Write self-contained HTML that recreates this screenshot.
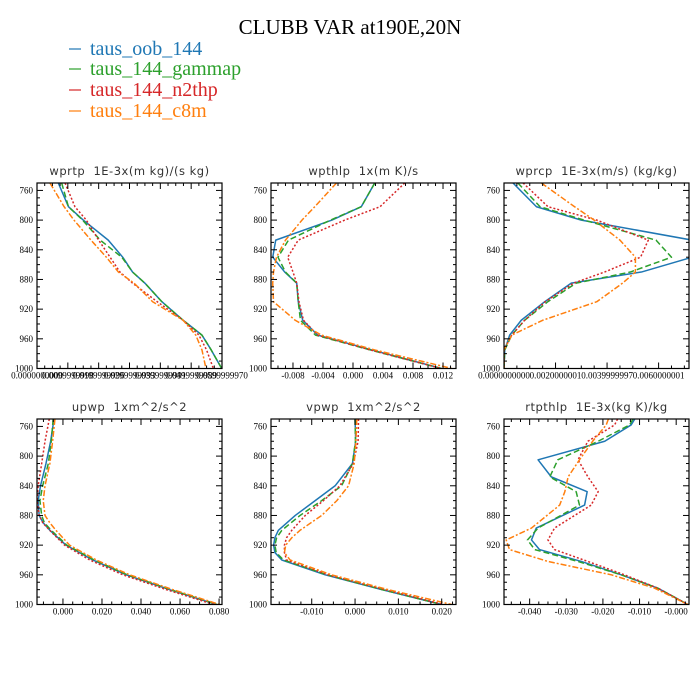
<!DOCTYPE html>
<html><head><meta charset="utf-8">
<style>
html,body{margin:0;padding:0;background:#fff;width:700px;height:700px;overflow:hidden}
svg{display:block}
.tk{font-family:"Liberation Serif",serif;font-size:9px;fill:#000}
.pt{font-family:"DejaVu Sans","Liberation Sans",sans-serif;font-size:11.5px;fill:#333;letter-spacing:0.5px;white-space:pre}
</style></head>
<body>
<svg id="chart" width="700" height="700" viewBox="0 0 700 700">
  <text x="350" y="34" text-anchor="middle" font-family="Liberation Serif,serif" font-size="21" fill="#000">CLUBB VAR at190E,20N</text>
  <g font-family="Liberation Serif,serif" font-size="20">
    <g><line x1="69" y1="49" x2="81" y2="49" stroke="#1f77b4" stroke-opacity="0.6" stroke-width="2"/><text x="90" y="55" fill="#1f77b4">taus_oob_144</text></g>
    <g><line x1="69" y1="69" x2="81" y2="69" stroke="#2ca02c" stroke-opacity="0.6" stroke-width="2"/><text x="90" y="75" fill="#2ca02c">taus_144_gammap</text></g>
    <g><line x1="69" y1="90" x2="81" y2="90" stroke="#d62728" stroke-opacity="0.6" stroke-width="2"/><text x="90" y="96" fill="#d62728">taus_144_n2thp</text></g>
    <g><line x1="69" y1="111" x2="81" y2="111" stroke="#ff7f0e" stroke-opacity="0.6" stroke-width="2"/><text x="90" y="117" fill="#ff7f0e">taus_144_c8m</text></g>
  </g>
</svg>
<script>
// ---- data ----
const seriesNames = ["taus_oob_144","taus_144_gammap","taus_144_n2thp","taus_144_c8m"];
const topLevels = [750,782,800,827,850,870,885,910,935,955,975,1000];

const wprtpBlue   = [.0069,.0102,.0150,.0231,.0278,.0310,.0350,.0405,.0474,.0535,.0565,.0599];
const wprtpGreen  = [.0080,.0102,.0148,.0205,.0275,.0310,.0350,.0405,.0474,.0535,.0565,.0599];
const wprtpRed    = [.0091,.0123,.0160,.0200,.0237,.0269,.0310,.0390,.0474,.0525,.0550,.0572];
const wprtpOrange = [.0042,.0088,.0120,.0175,.0225,.0264,.0315,.0375,.0474,.0515,.0535,.0548];
const wprtpTicks = [0,0.01,0.02,0.03,0.04,0.05,0.06];
const wprtpTickLabels = ["0.0000000000","0.0099999998","0.0199999996","0.0299999993","0.0399999991","0.0499999989","0.0599999970"];

const wpthlpBlue   = [.0029,.0011,-.0028,-.0103,-.0107,-.0091,-.0075,-.0073,-.0067,-.0047,.0025,.0118];
const wpthlpGreen  = [.0029,.0011,-.0030,-.0086,-.0100,-.0090,-.0075,-.0073,-.0070,-.0050,.0023,.0118];
const wpthlpRed    = [.0069,.0036,-.0011,-.0073,-.0087,-.0080,-.0075,-.0072,-.0066,-.0047,.0023,.0118];
const wpthlpOrange = [-.0022,-.0051,-.0068,-.0090,-.0102,-.0106,-.0107,-.0106,-.0077,-.0042,.0029,.0132];
const wpthlpTicks = [-0.008,-0.004,0,0.004,0.008,0.012];
const wpthlpTickLabels = ["-0.008","-0.004","0.000","0.004","0.008","0.012"];

const wprcpBlue   = [.00035,.00126,.0030,.0073,.0073,.00533,.00261,.00158,.00067,.00022,.00003,0];
const wprcpGreen  = [.00054,.0014,.0031,.0059,.0065,.0049,.0028,.0017,.0008,.0003,.00003,0];
const wprcpRed    = [.00074,.00171,.0036,.0056,.0053,.0039,.0027,.0016,.0008,.0003,0,0];
const wprcpOrange = [.00145,.00274,.0035,.0045,.0051,.0051,.0046,.0036,.0015,.0003,0,0];
const wprcpTicks = [0,0.002,0.004,0.006];
const wprcpTickLabels = ["0.0000000000","0.0020000001","0.0039999997","0.0060000001"];

const upwpLevels = [750,780,810,840,860,880,890,900,920,940,960,980,1000];
const upwpBlue   = [-.0046,-.0063,-.0087,-.0115,-.0127,-.0122,-.0101,-.0067,.0016,.0153,.0324,.0547,.0786];
const upwpGreen  = [-.0050,-.0060,-.0075,-.0104,-.0118,-.0109,-.0095,-.0060,.0020,.0160,.0330,.0552,.0790];
const upwpRed    = [-.0070,-.0092,-.0109,-.0127,-.0132,-.0122,-.0103,-.0068,.0008,.0137,.0307,.0530,.0773];
const upwpOrange = [-.0041,-.0053,-.0067,-.0092,-.0101,-.0092,-.0067,-.0036,.0034,.0171,.0342,.0564,.0803];
const upwpTicks = [0,0.02,0.04,0.06,0.08];
const upwpTickLabels = ["0.000","0.020","0.040","0.060","0.080"];

const vpwpLevels = [750,780,810,840,860,880,900,910,920,930,940,960,980,1000];
const vpwpBlue   = [0,.00015,-.0006,-.0046,-.0092,-.0138,-.0177,-.0185,-.0188,-.0185,-.0169,-.0069,.0062,.0200];
const vpwpGreen  = [0,.0001,-.0006,-.0031,-.0077,-.0127,-.0169,-.0181,-.0185,-.0182,-.0165,-.0065,.0063,.0200];
const vpwpRed    = [.0008,.0007,-.0004,-.0035,-.0073,-.0115,-.0146,-.0158,-.0163,-.0163,-.0158,-.0062,.0069,.0204];
const vpwpOrange = [.0004,.0002,-.0002,-.0015,-.0042,-.0077,-.0127,-.0146,-.0160,-.0163,-.0150,-.0054,.0077,.0223];
const vpwpTicks = [-0.01,0,0.01,0.02];
const vpwpTickLabels = ["-0.010","0.000","0.010","0.020"];

const rtpLevels = [750,758,780,805,828,848,866,897,913,926,942,960,978,1000];
const rtpBlue   = [-.0113,-.0123,-.0195,-.0377,-.0341,-.0243,-.0250,-.0382,-.0395,-.0373,-.0259,-.0150,-.0050,.0032];
const rtpGreen  = [-.0118,-.0127,-.0213,-.0323,-.0345,-.0273,-.0264,-.0377,-.0406,-.0386,-.0268,-.0150,-.0050,.0032];
const rtpRed    = [-.0160,-.0168,-.0241,-.0268,-.0241,-.0213,-.0232,-.0332,-.0350,-.0332,-.0241,-.0141,-.0050,.0032];
const rtpOrange = [-.0185,-.0191,-.0228,-.0264,-.0295,-.0304,-.0318,-.0395,-.0464,-.0455,-.0350,-.0177,-.0059,.0032];
const rtpTicks = [-0.04,-0.03,-0.02,-0.01,0];
const rtpTickLabels = ["-0.040","-0.030","-0.020","-0.010","-0.000"];

const yTicks = [760,800,840,880,920,960,1000];

// ---- drawing ----
const NS="http://www.w3.org/2000/svg";
const svg=document.getElementById('chart');
const colors=["#1f77b4","#2ca02c","#d62728","#ff7f0e"];
const dashes=["", "6,3", "2,2", "6,2,2,2"];
function mk(tag,attrs,parent){const e=document.createElementNS(NS,tag);for(const k in attrs)e.setAttribute(k,attrs[k]);parent.appendChild(e);return e;}

const panels=[
 {id:"wprtp",title:"wprtp  1E-3x(m kg)/(s kg)",x:37,y:183,dom:[0,0.06],minor:0.0025,levels:topLevels,series:[wprtpBlue,wprtpGreen,wprtpRed,wprtpOrange],ticks:wprtpTicks,labels:wprtpTickLabels},
 {id:"wpthlp",title:"wpthlp  1x(m K)/s",x:271,y:183,dom:[-0.01093,0.01373],minor:0.001,levels:topLevels,series:[wpthlpBlue,wpthlpGreen,wpthlpRed,wpthlpOrange],ticks:wpthlpTicks,labels:wpthlpTickLabels},
 {id:"wprcp",title:"wprcp  1E-3x(m/s) (kg/kg)",x:504,y:183,dom:[0,0.00718],minor:0.0005,levels:topLevels,series:[wprcpBlue,wprcpGreen,wprcpRed,wprcpOrange],ticks:wprcpTicks,labels:wprcpTickLabels},
 {id:"upwp",title:"upwp  1xm^2/s^2",x:37,y:419,dom:[-0.0133,0.0815],minor:0.005,levels:upwpLevels,series:[upwpBlue,upwpGreen,upwpRed,upwpOrange],ticks:upwpTicks,labels:upwpTickLabels},
 {id:"vpwp",title:"vpwp  1xm^2/s^2",x:271,y:419,dom:[-0.0194,0.0233],minor:0.0025,levels:vpwpLevels,series:[vpwpBlue,vpwpGreen,vpwpRed,vpwpOrange],ticks:vpwpTicks,labels:vpwpTickLabels},
 {id:"rtpthlp",title:"rtpthlp  1E-3x(kg K)/kg",x:504,y:419,dom:[-0.0470,0.0035],minor:0.0025,levels:rtpLevels,series:[rtpBlue,rtpGreen,rtpRed,rtpOrange],ticks:rtpTicks,labels:rtpTickLabels}
];
const W=185,H=185.5;
panels.forEach((P,pi)=>{
  const g=mk('g',{},svg);
  
  
  const sx=v=>P.x+(v-P.dom[0])/(P.dom[1]-P.dom[0])*W;
  const sy=p=>P.y+(p-750)/250*H;
  const cid='clip'+pi;
  const cp=mk('clipPath',{id:cid},g); mk('rect',{x:P.x,y:P.y,width:W,height:H},cp);
  const t=mk('text',{x:P.x+W/2,y:P.y-8,'text-anchor':'middle','class':'pt'},g);
  t.textContent=P.title;
  
  
  P.series.forEach((vals,si)=>{
    const d=vals.map((v,i)=>(i?'L':'M')+sx(v).toFixed(2)+','+sy(P.levels[i]).toFixed(2)).join(' ');
    const a={d:d,fill:'none',stroke:colors[si],'stroke-width':1.5,'clip-path':'url(#'+cid+')','stroke-linejoin':'round'};
    if(dashes[si])a['stroke-dasharray']=dashes[si];
    const path=mk('path',a,g);
    
    
  });
  const fr=mk('rect',{x:P.x,y:P.y,width:W,height:H,fill:'none',stroke:'#000','stroke-width':1.2},g);
  
  
  for(let p=750;p<=1000;p+=10){
    const y=sy(p); const major=(p-760)%40===0&&p>=760; const L=major?6:3;
    mk('line',{x1:P.x,y1:y,x2:P.x+L,y2:y,stroke:'#000','stroke-width':1},g);
    mk('line',{x1:P.x+W,y1:y,x2:P.x+W-L,y2:y,stroke:'#000','stroke-width':1},g);
  }
  yTicks.forEach(p=>{
    const tl=mk('text',{x:P.x-4,y:sy(p)+3,'text-anchor':'end','class':'tk'},g);
    tl.textContent=p;
    
    
  });
  const m0=Math.ceil(P.dom[0]/P.minor-1e-6);
  for(let k=m0;k*P.minor<=P.dom[1]+1e-9;k++){
    const v=k*P.minor; const x=sx(v);
    const major=P.ticks.some(t=>Math.abs(t-v)<P.minor/10); const L=major?6:3;
    mk('line',{x1:x,y1:P.y+H,x2:x,y2:P.y+H-L,stroke:'#000','stroke-width':1},g);
    mk('line',{x1:x,y1:P.y,x2:x,y2:P.y+L,stroke:'#000','stroke-width':1},g);
  }
  P.ticks.forEach((v,i)=>{
    const tl=mk('text',{x:sx(v),y:P.y+H+10,'text-anchor':'middle','class':'tk'},g);
    tl.textContent=P.labels[i];
    
    
  });
});
</script>
</body></html>
